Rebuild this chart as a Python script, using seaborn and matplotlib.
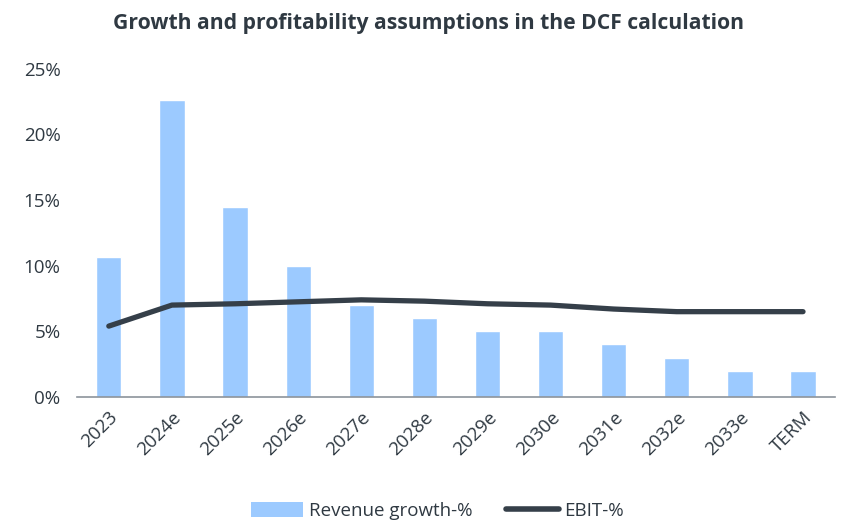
import numpy as np
import pandas as pd
import matplotlib
matplotlib.use("Agg")
import matplotlib.pyplot as plt
import seaborn as sns
from matplotlib.ticker import FuncFormatter
from matplotlib.patches import Patch
from matplotlib.lines import Line2D

categories = ["2023", "2024e", "2025e", "2026e", "2027e", "2028e",
              "2029e", "2030e", "2031e", "2032e", "2033e", "TERM"]
revenue_growth = [10.7, 22.6, 14.5, 10.0, 7.0, 6.0, 5.0, 5.0, 4.0, 3.0, 2.0, 2.0]
ebit_margin = [5.4, 7.0, 7.1, 7.25, 7.4, 7.3, 7.1, 7.0, 6.7, 6.5, 6.5, 6.5]

bar_color = "#9ccaff"
line_color = "#353f49"
text_color = "#2f3942"

sns.set_theme(style="white")
plt.rcParams["font.family"] = ["Open Sans", "DejaVu Sans"]

df = pd.DataFrame({"cat": categories, "rev": revenue_growth, "ebit": ebit_margin,
                   "pos": np.arange(len(categories))})

fig = plt.figure(figsize=(8.49, 5.21), dpi=100)
ax = fig.add_axes([0.091, 0.238, 0.892, 0.63])

sns.barplot(data=df, x="cat", y="rev", color=bar_color, width=0.4,
            saturation=1, ax=ax)
sns.lineplot(data=df, x="pos", y="ebit", color=line_color, linewidth=3.8,
             ax=ax, solid_capstyle="round", solid_joinstyle="round")

ax.set_xlim(-0.5, len(categories) - 0.5)
ax.set_ylim(0, 25)
ax.set_yticks(np.arange(0, 26, 5))
ax.yaxis.set_major_formatter(FuncFormatter(lambda v, p: f"{v:.0f}%"))
ax.set_xticks(np.arange(len(categories)))
ax.set_xticklabels(categories, rotation=45, ha="right", rotation_mode="anchor")
ax.set_xlabel("")
ax.set_ylabel("")
ax.tick_params(axis="both", labelsize=13.5, colors=text_color, length=0)
ax.tick_params(axis="x", pad=8)
ax.tick_params(axis="y", pad=12)
for s in ["top", "right", "left"]:
    ax.spines[s].set_visible(False)
ax.spines["bottom"].set_color("#8c939b")
ax.spines["bottom"].set_linewidth(1.2)
ax.grid(False)

fig.suptitle("Growth and profitability assumptions in the DCF calculation",
             x=0.505, y=0.976, fontsize=15.2, fontweight="bold", color=text_color)

handles = [Patch(facecolor=bar_color, edgecolor="none", label="Revenue growth-%"),
           Line2D([0], [0], color=line_color, linewidth=4, solid_capstyle="round",
                  label="EBIT-%")]
fig.legend(handles=handles, loc="lower center", bbox_to_anchor=(0.515, -0.03),
           ncol=2, frameon=False, fontsize=13.5, labelcolor=text_color,
           handlelength=2.8, handleheight=0.9, handletextpad=0.3, columnspacing=1.8)

fig.savefig("out.png", dpi=100)
